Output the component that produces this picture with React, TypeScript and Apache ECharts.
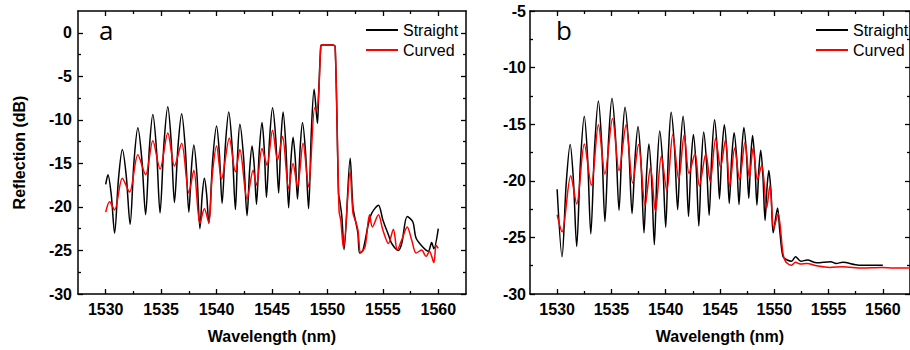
import React, { useEffect, useRef } from "react";
import * as echarts from "echarts";

// ---- Data (wavelength nm, reflection dB) ----
const straightA: [number, number][] = [
  [1530.0, -17.4], [1530.2, -16.3], [1530.5, -18.6], [1530.8, -23.0], [1531.15, -16.8], [1531.5, -13.4],
  [1531.85, -16.4], [1532.2, -22.0], [1532.55, -14.8], [1532.9, -10.9], [1533.25, -14.4], [1533.6, -20.9],
  [1533.93, -13.4], [1534.25, -9.4], [1534.58, -13.4], [1534.9, -20.7], [1535.25, -12.8], [1535.6, -8.5],
  [1535.9, -12.35], [1536.2, -19.5], [1536.53, -12.9], [1536.85, -9.3], [1537.18, -13.3], [1537.5, -20.6],
  [1537.73, -15.6], [1537.95, -12.9], [1538.23, -16.3], [1538.5, -22.5], [1538.7, -18.7], [1538.9, -16.7],
  [1539.1, -18.5], [1539.3, -21.9], [1539.65, -14.6], [1540.0, -10.7], [1540.25, -13.8], [1540.5, -19.6],
  [1540.8, -12.8], [1541.1, -9.1], [1541.4, -13.0], [1541.7, -20.3], [1541.9, -13.9], [1542.1, -10.5],
  [1542.43, -14.2], [1542.75, -21.0], [1542.98, -15.8], [1543.2, -13.0], [1543.4, -15.3], [1543.6, -19.7],
  [1543.85, -13.6], [1544.1, -10.3], [1544.3, -13.3], [1544.5, -18.9], [1544.78, -12.2], [1545.05, -8.6],
  [1545.33, -12.0], [1545.6, -18.4], [1545.8, -12.4], [1546.0, -9.1], [1546.25, -13.0], [1546.5, -20.1],
  [1546.7, -14.8], [1546.9, -12.0], [1547.1, -14.5], [1547.3, -19.1], [1547.53, -13.4], [1547.75, -10.3],
  [1548.03, -13.8], [1548.3, -20.2], [1548.55, -11.3], [1548.8, -6.5], [1549.1, -10.4], [1549.2, -7.3],
  [1549.4, -1.5], [1549.5, -1.4], [1550.5, -1.4], [1550.7, -1.6], [1551.0, -18.5], [1551.1, -19.2],
  [1551.3, -21.1], [1551.5, -24.9], [1552.05, -14.4], [1552.3, -20.0], [1552.55, -21.7], [1552.75, -23.0],
  [1552.9, -25.3], [1553.2, -25.0], [1553.7, -21.9], [1554.0, -20.7], [1554.6, -19.8], [1555.0, -21.5],
  [1555.5, -23.2], [1555.8, -24.2], [1556.4, -25.0], [1556.7, -24.2], [1557.2, -21.1], [1557.7, -21.7],
  [1558.0, -23.6], [1558.6, -24.6], [1559.1, -25.1], [1559.4, -24.1], [1559.6, -24.8], [1560.0, -22.5],
];

const curvedA: [number, number][] = [
  [1530.0, -20.6], [1530.35, -19.4], [1530.8, -20.35], [1531.5, -16.7], [1532.15, -18.3], [1532.9, -14.0],
  [1533.6, -16.3], [1534.25, -12.4], [1534.9, -15.65], [1535.6, -11.5], [1536.2, -15.3], [1536.85, -12.7],
  [1537.5, -18.4], [1537.95, -15.8], [1538.5, -21.9], [1538.9, -20.2], [1539.3, -21.8], [1539.6, -16.5],
  [1540.0, -13.0], [1540.45, -16.8], [1541.15, -12.1], [1541.7, -15.95], [1542.1, -13.4], [1542.75, -19.1],
  [1543.3, -15.8], [1543.6, -17.5], [1544.1, -13.3], [1544.55, -15.2], [1545.05, -11.2], [1545.5, -14.6],
  [1545.95, -11.9], [1546.5, -17.9], [1546.9, -15.0], [1547.3, -17.7], [1547.8, -12.7], [1548.3, -17.7],
  [1548.85, -8.6], [1549.0, -8.9], [1549.2, -7.3], [1549.4, -1.5], [1549.5, -1.4], [1550.5, -1.4],
  [1550.7, -1.6], [1551.05, -20.5], [1551.2, -21.5], [1551.45, -24.75], [1552.05, -15.95], [1552.3, -20.7],
  [1552.55, -21.7], [1552.75, -22.65], [1553.0, -25.3], [1553.4, -24.55], [1553.8, -20.9], [1554.05, -22.3],
  [1554.6, -20.9], [1555.0, -22.65], [1555.5, -24.2], [1555.95, -22.55], [1556.3, -24.95], [1556.7, -23.8],
  [1557.2, -22.3], [1557.6, -23.8], [1558.0, -25.3], [1558.5, -24.95], [1558.9, -25.7], [1559.2, -25.1],
  [1559.6, -26.4], [1559.8, -24.4], [1560.0, -24.75],
];

const straightB: [number, number][] = [
  [1530.0, -20.75], [1530.45, -26.7], [1530.83, -20.3], [1531.2, -16.8], [1531.5, -19.95], [1531.8, -25.8],
  [1532.15, -18.3], [1532.5, -14.3], [1532.8, -17.9], [1533.1, -24.7], [1533.45, -17.05], [1533.8, -12.95],
  [1534.1, -16.65], [1534.4, -23.6], [1534.73, -16.5], [1535.05, -12.7], [1535.38, -16.2], [1535.7, -22.6],
  [1535.98, -16.7], [1536.25, -13.5], [1536.58, -16.8], [1536.9, -22.9], [1537.18, -17.9], [1537.45, -15.2],
  [1537.73, -18.5], [1538.0, -24.6], [1538.23, -19.5], [1538.45, -16.75], [1538.7, -19.85], [1538.95, -25.65],
  [1539.2, -19.1], [1539.45, -15.6], [1539.73, -18.6], [1540.0, -24.1], [1540.25, -17.5], [1540.5, -13.95],
  [1540.8, -16.95], [1541.1, -22.55], [1541.35, -17.2], [1541.6, -14.3], [1541.85, -17.4], [1542.1, -23.15],
  [1542.33, -18.4], [1542.55, -15.9], [1542.8, -18.7], [1543.05, -24.0], [1543.28, -18.6], [1543.5, -15.7],
  [1543.75, -18.3], [1544.0, -23.05], [1544.25, -17.6], [1544.5, -14.6], [1544.73, -17.05], [1544.95, -21.6],
  [1545.18, -17.35], [1545.4, -15.05], [1545.63, -17.45], [1545.85, -22.0], [1546.08, -17.95], [1546.3, -15.75],
  [1546.53, -17.95], [1546.75, -22.1], [1546.98, -17.7], [1547.2, -15.3], [1547.43, -17.5], [1547.65, -21.55],
  [1547.83, -17.9], [1548.0, -16.0], [1548.2, -18.15], [1548.4, -22.15], [1548.58, -19.0], [1548.75, -17.3],
  [1548.95, -19.5], [1549.15, -23.5], [1549.33, -20.6], [1549.5, -19.1], [1549.7, -21.0], [1549.9, -24.6],
  [1550.3, -22.4], [1550.5, -24.35], [1550.8, -26.7], [1551.2, -27.0], [1551.6, -27.1], [1551.95, -26.7],
  [1552.45, -27.1], [1553.05, -27.0], [1553.9, -27.25], [1555.2, -27.15], [1555.7, -27.3], [1556.3, -27.2],
  [1557.8, -27.45], [1560.0, -27.45],
];

const curvedB: [number, number][] = [
  [1530.0, -23.0], [1530.45, -24.5], [1531.25, -19.55], [1531.8, -22.05], [1532.5, -16.75], [1533.15, -20.4],
  [1533.8, -15.05], [1534.4, -19.4], [1535.1, -14.5], [1535.7, -19.1], [1536.35, -15.05], [1536.95, -20.2],
  [1537.5, -16.8], [1538.1, -22.2], [1538.6, -18.8], [1539.05, -22.7], [1539.6, -17.8], [1540.1, -20.9],
  [1540.65, -15.9], [1541.2, -19.9], [1541.7, -15.95], [1542.15, -19.35], [1542.7, -17.6], [1543.1, -20.45],
  [1543.7, -17.6], [1544.1, -20.1], [1544.6, -16.25], [1545.05, -18.8], [1545.5, -16.4], [1545.9, -20.5],
  [1546.35, -17.1], [1546.8, -19.9], [1547.3, -16.6], [1547.7, -19.7], [1548.05, -17.1], [1548.45, -19.9],
  [1548.85, -18.6], [1549.3, -22.4], [1549.6, -20.4], [1549.95, -24.2], [1550.35, -22.9], [1550.8, -26.4],
  [1551.05, -27.15], [1551.6, -27.45], [1551.95, -27.2], [1552.4, -27.35], [1553.0, -27.3], [1553.9, -27.5],
  [1555.1, -27.65], [1556.3, -27.6], [1558.1, -27.7], [1559.9, -27.65], [1561.0, -27.7], [1562.4, -27.7],
];

// ---- Tick values ----
const xMajor = [1530, 1535, 1540, 1545, 1550, 1555, 1560];
const xMinor = [1532.5, 1537.5, 1542.5, 1547.5, 1552.5, 1557.5];
const yMajorA = [-30, -25, -20, -15, -10, -5, 0];
const yMinorA = [-27.5, -22.5, -17.5, -12.5, -7.5, -2.5];
const yMajorB = [-30, -25, -20, -15, -10, -5];
const yMinorB = [-27.5, -22.5, -17.5, -12.5, -7.5];

const seriesNames = ["Straight", "Curved"];
const panelLetters = ["a", "b"];

const FONT = "Liberation Sans";
const AXIS_COLOR = "#000";

function makeAxes(
  kind: "x" | "y",
  grid: number,
  min: number,
  max: number,
  majors: number[],
  minors: number[],
  labelMargin: number,
  name?: string,
  nameGap?: number
) {
  const pos = kind === "x" ? ["bottom", "top"] : ["left", "right"];
  const axes: any[] = [];
  pos.forEach((p, pi) => {
    axes.push({
      type: "value",
      gridIndex: grid,
      position: p,
      min,
      max,
      splitLine: { show: false },
      axisLine: { show: true, onZero: false, lineStyle: { color: AXIS_COLOR, width: 1.5 } },
      axisTick: { show: true, inside: true, length: 5, customValues: majors, lineStyle: { color: AXIS_COLOR, width: 1.3 } },
      axisLabel: pi === 0
        ? {
            show: true,
            customValues: majors,
            margin: labelMargin,
            color: "#000",
            fontFamily: FONT,
            fontWeight: "bold",
            fontSize: 16,
            formatter: (v: number) => String(v),
          }
        : { show: false },
      name: pi === 0 ? name : undefined,
      nameLocation: "middle",
      nameGap: nameGap,
      nameTextStyle: { color: "#000", fontFamily: FONT, fontWeight: "bold", fontSize: 16 },
    });
    axes.push({
      type: "value",
      gridIndex: grid,
      position: p,
      min,
      max,
      splitLine: { show: false },
      axisLine: { show: false, onZero: false },
      axisTick: { show: true, inside: true, length: 3, customValues: minors, lineStyle: { color: AXIS_COLOR, width: 1.3 } },
      axisLabel: { show: false },
    });
  });
  return axes;
}

export default function App() {
  const ref = useRef<HTMLDivElement>(null);
  useEffect(() => {
    if (!ref.current) return;
    const chart = echarts.init(ref.current, null, { renderer: "svg" });
    const xAxis = [
      ...makeAxes("x", 0, 1527.5, 1562.5, xMajor, xMinor, 7, "Wavelength (nm)", 34),
      ...makeAxes("x", 1, 1527.5, 1562.5, xMajor, xMinor, 7, "Wavelength (nm)", 34),
    ];
    const yAxis = [
      ...makeAxes("y", 0, -30, 2.5, yMajorA, yMinorA, 6, "Reflection (dB)", 51),
      ...makeAxes("y", 1, -30, -5, yMajorB, yMinorB, 4),
    ];
    const mkSeries = (name: string, data: [number, number][], color: string, axis: number, z: number) => ({
      name,
      type: "line",
      data,
      xAxisIndex: axis,
      yAxisIndex: axis,
      symbol: "none",
      smooth: 0.3,
      lineStyle: { color, width: 1.5 },
      itemStyle: { color },
      z,
    });
    const legendBase = {
      data: seriesNames,
      orient: "vertical",
      top: 22,
      padding: 0,
      icon: "rect",
      itemWidth: 32,
      itemHeight: 2,
      itemGap: 4,
      textStyle: { fontSize: 16, color: "#000", fontFamily: FONT },
    };
    chart.setOption({
      animation: false,
      grid: [
        { left: 78, top: 11, width: 388, height: 283 },
        { left: 530, top: 11, width: 389, height: 283 },
      ],
      xAxis,
      yAxis,
      legend: [
        { ...legendBase, left: 366 },
        { ...legendBase, left: 816 },
      ],
      graphic: [
        { type: "text", x: 99, y: 30, style: { text: panelLetters[0], fontSize: 26, fontFamily: "Open Sans", fill: "#000", verticalAlign: "middle" } },
        { type: "text", x: 556, y: 30, style: { text: panelLetters[1], fontSize: 26, fontFamily: "Open Sans", fill: "#000", verticalAlign: "middle" } },
      ],
      series: [
        mkSeries(seriesNames[0], straightA, "#000000", 0, 2),
        mkSeries(seriesNames[1], curvedA, "#ff0000", 0, 3),
        mkSeries(seriesNames[0], straightB, "#000000", 4, 2),
        mkSeries(seriesNames[1], curvedB, "#ff0000", 4, 3),
      ],
    });
    return () => chart.dispose();
  }, []);
  return (
    <div
      ref={ref}
      style={{ position: "absolute", left: 0, top: 0, width: 910, height: 350, background: "#fff" }}
    />
  );
}
